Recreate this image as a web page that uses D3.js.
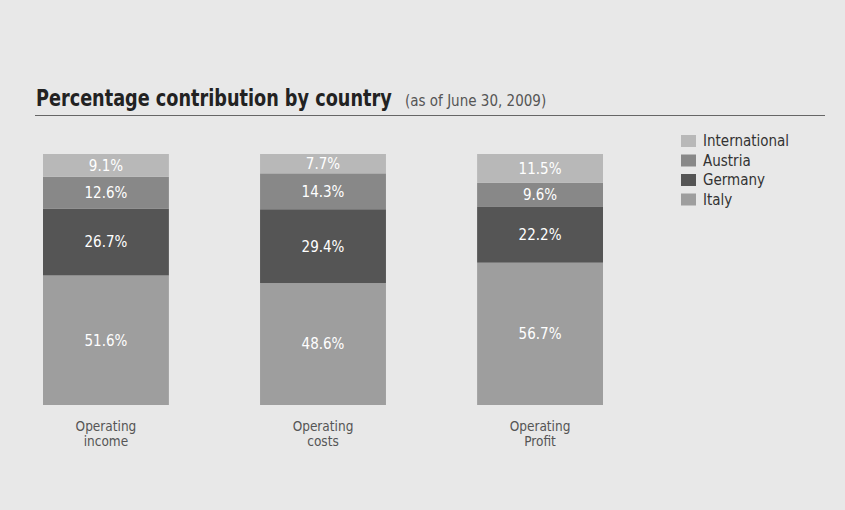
<!DOCTYPE html>
<html><head><meta charset="utf-8">
<script src="https://cdn.jsdelivr.net/npm/d3@7"></script>
<style>
html,body{margin:0;padding:0;background:#e8e8e8;}
svg{display:block;}
text{font-family:"DejaVu Sans Condensed","Liberation Sans Narrow","Liberation Sans",sans-serif;}
</style></head><body>
<svg id="chart" width="845" height="510"></svg>
<script>
const categories = ["Operating income", "Operating costs", "Operating Profit"];
const seriesNames = ["Italy", "Germany", "Austria", "International"];
const italy = [51.6, 48.6, 56.7];
const germany = [26.7, 29.4, 22.2];
const austria = [12.6, 14.3, 9.6];
const international = [9.1, 7.7, 11.5];
const legendOrder = ["International", "Austria", "Germany", "Italy"];

const colors = {International:"#b8b8b8", Austria:"#888888", Germany:"#555555", Italy:"#9e9e9e"};

const svg = d3.select("#chart");
svg.append("rect").attr("width",845).attr("height",510).attr("fill","#e8e8e8");

const rows = categories.map((c,i)=>({cat:c, Italy:italy[i], Germany:germany[i], Austria:austria[i], International:international[i]}));
const stack = d3.stack().keys(seriesNames)(rows);

const x = d3.scaleBand().domain(categories).range([43, 603]).paddingInner(0.42).paddingOuter(0);
const y = d3.scaleLinear().domain([0,100]).range([405,154]);

// Title (horizontally condensed to match the reference's narrow face)
const titleText = svg.append("text").attr("fill","#222")
  .attr("font-size",23).attr("font-weight","bold")
  .text("Percentage contribution by country");
const tw = titleText.node().getComputedTextLength();
const sx = Math.min(1, 356 / tw);
titleText.attr("transform",`translate(36,106) scale(${sx},1)`);
svg.append("text").attr("x",405).attr("y",106).attr("fill","#555").attr("font-size",15)
  .text("(as of June 30, 2009)");
svg.append("line").attr("x1",35).attr("x2",825).attr("y1",115.5).attr("y2",115.5).attr("stroke","#666").attr("stroke-width",1);

const g = svg.append("g");
stack.forEach(layer=>{
  const key = layer.key;
  layer.forEach((d,i)=>{
    const cat = categories[i];
    g.append("rect").attr("x",x(cat)).attr("width",x.bandwidth())
      .attr("y",y(d[1])).attr("height",y(d[0])-y(d[1])).attr("fill",colors[key]);
    g.append("text").attr("x",x(cat)+x.bandwidth()/2).attr("y",(y(d[0])+y(d[1]))/2)
      .attr("dy","0.36em").attr("text-anchor","middle").attr("fill","#fff")
      .attr("font-size",15).text(d.data[key].toFixed(1)+"%");
  });
});

// Category labels
categories.forEach(c=>{
  const words = c.split(" ");
  const cx = x(c)+x.bandwidth()/2;
  const t = svg.append("text").attr("y",431)
    .attr("text-anchor","middle").attr("fill","#555").attr("font-size",13.5);
  t.append("tspan").attr("x",cx).text(words[0]);
  t.append("tspan").attr("x",cx).attr("dy",15).text(words[1]);
});

// Legend
const leg = svg.append("g");
legendOrder.forEach((k,i)=>{
  const yy = 141 + i*19.5;
  leg.append("rect").attr("x",681).attr("y",yy-6).attr("width",15).attr("height",12).attr("fill",colors[k]);
  leg.append("text").attr("x",703).attr("y",yy).attr("dy","0.36em").attr("fill","#333").attr("font-size",15).text(k);
});
</script>
</body></html>
